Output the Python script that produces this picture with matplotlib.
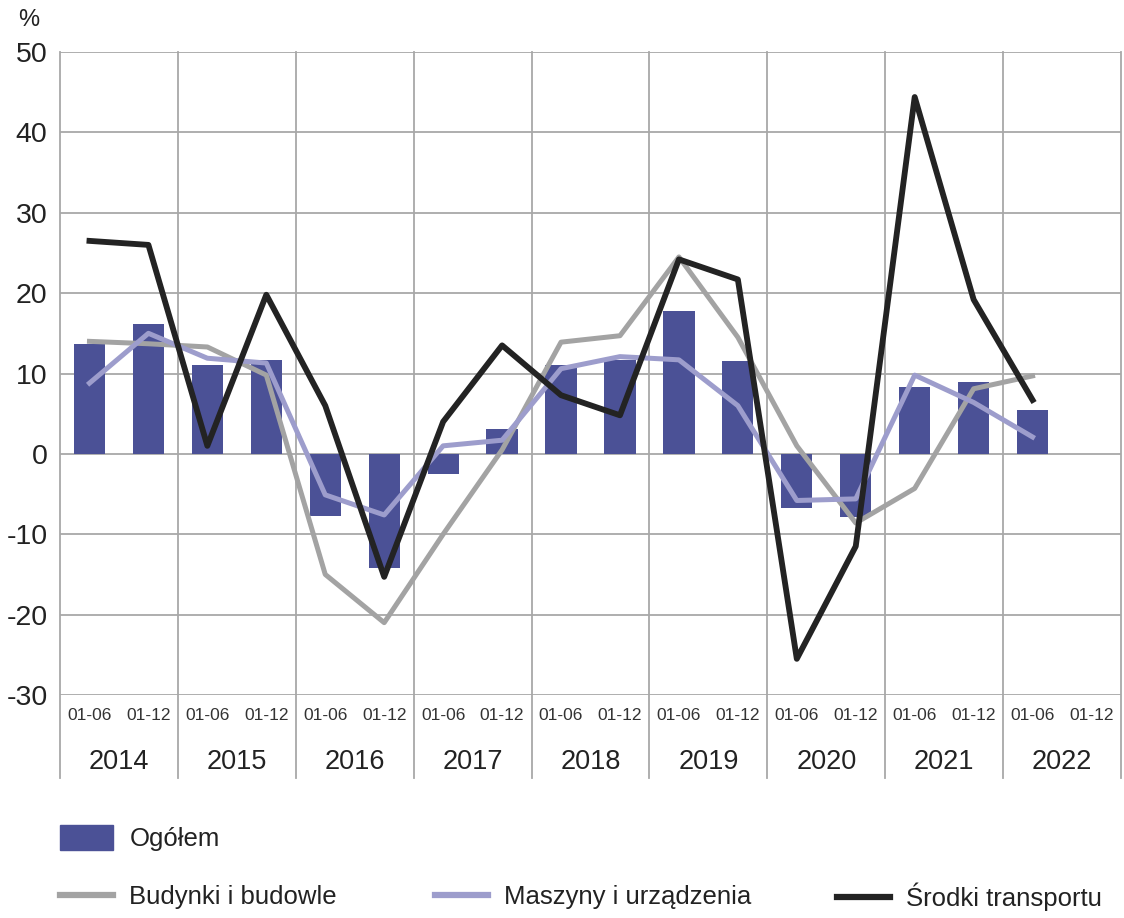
import numpy as np
import matplotlib
matplotlib.use("Agg")
import matplotlib.pyplot as plt
import matplotlib.transforms as mtransforms
from matplotlib.patches import Patch
from matplotlib.lines import Line2D

plt.rcParams['font.family'] = ['Liberation Sans', 'DejaVu Sans']
plt.rcParams['axes.unicode_minus'] = False

years = ["2014", "2015", "2016", "2017", "2018", "2019", "2020", "2021", "2022"]
periods = ["01-06", "01-12"] * len(years)

# wartości w %, None = brak danych
ogolem = [13.7, 16.2, 11.0, 11.7, -7.7, -14.2, -2.5, 3.1, 11.0, 11.7,
          17.8, 11.5, -6.7, -7.9, 8.3, 9.0, 5.5, None]
budynki = [14.0, 13.7, 13.3, 9.8, -15.0, -21.0, -10.0, 0.5, 13.9, 14.7,
           24.5, 14.5, 1.0, -8.6, -4.3, 8.1, 9.7, None]
maszyny = [8.8, 15.0, 11.9, 11.3, -5.1, -7.6, 1.0, 1.7, 10.6, 12.1,
           11.7, 6.0, -5.8, -5.6, 9.8, 6.4, 2.1, None]
transport = [26.5, 26.0, 1.0, 19.8, 6.0, -15.3, 4.0, 13.5, 7.3, 4.8,
             24.2, 21.7, -25.5, -11.5, 44.4, 19.2, 6.7, None]

c_bar = "#4b5196"
c_bud = "#a3a3a3"
c_masz = "#9d9dcc"
c_tr = "#232323"
c_grid = "#a8a8a8"

def arr(v):
    return np.array([np.nan if a is None else a for a in v], dtype=float)

fig = plt.figure(figsize=(11.24, 9.18), dpi=100)
W, H = 1124, 918
ax = fig.add_axes([60 / W, 1 - 695 / H, (1121 - 60) / W, (695 - 52) / H])

x = np.arange(len(periods))
ax.bar(x, np.nan_to_num(arr(ogolem)), width=0.53, color=c_bar, zorder=2)
ax.plot(x, arr(budynki), color=c_bud, lw=3.6, zorder=3)
ax.plot(x, arr(maszyny), color=c_masz, lw=3.6, zorder=4)
ax.plot(x, arr(transport), color=c_tr, lw=4.2, zorder=5)

ax.set_xlim(-0.5, len(periods) - 0.5)
ax.set_ylim(-30, 50)
ax.set_yticks(range(-30, 51, 10))
ax.yaxis.grid(True, color=c_grid, lw=1.3)
ax.set_axisbelow(True)
for s in ax.spines.values():
    s.set_visible(False)
ax.tick_params(axis='y', length=0, pad=9, labelsize=20.5, colors="#222222")
ax.set_xticks(x)
ax.set_xticklabels(periods, fontsize=12.5, color="#333333")
ax.tick_params(axis='x', length=0, pad=9)

# pionowe linie między latami, wydłużone pod osią
trans = mtransforms.blended_transform_factory(ax.transData, ax.transAxes)
for b in np.arange(-0.5, len(periods), 2):
    ax.plot([b, b], [1, -0.129], transform=trans, color=c_grid, lw=1.3,
            clip_on=False, zorder=1)
for i, yr in enumerate(years):
    ax.text(2 * i + 0.5, -0.104, yr, transform=trans, ha='center', va='center',
            fontsize=19.5, color="#222222")

fig.text(18 / W, 1 - 20 / H, "%", fontsize=17, color="#222222", va='center')

# legenda
leg_kw = dict(frameon=False, loc='center left', borderpad=0, borderaxespad=0,
              handletextpad=0.65, fontsize=18.5, labelcolor="#222222")
fig.legend(handles=[Patch(color=c_bar, label="Ogółem")],
           bbox_to_anchor=(60 / W, 1 - 838 / H), handlelength=2.05,
           handleheight=1.1, **leg_kw)
fig.legend(handles=[Line2D([], [], color=c_bud, lw=4.5, label="Budynki i budowle")],
           bbox_to_anchor=(60 / W, 1 - 897 / H), handlelength=2.05, **leg_kw)
fig.legend(handles=[Line2D([], [], color=c_masz, lw=4.5, label="Maszyny i urządzenia")],
           bbox_to_anchor=(435 / W, 1 - 897 / H), handlelength=2.05, **leg_kw)
fig.legend(handles=[Line2D([], [], color=c_tr, lw=4.5, label="Środki transportu")],
           bbox_to_anchor=(837 / W, 1 - 897 / H), handlelength=2.05, **leg_kw)

fig.savefig("out.png", dpi=100, facecolor="white")
